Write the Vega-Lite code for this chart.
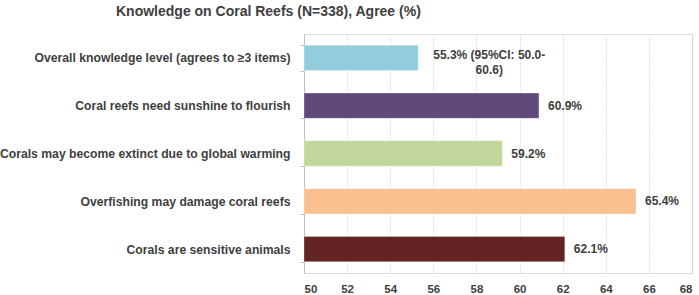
{
  "$schema": "https://vega.github.io/schema/vega-lite/v6.json",
  "autosize": "none",
  "width": 388,
  "height": 239,
  "padding": {"left": 304, "top": 34, "right": 7, "bottom": 22},
  "background": "white",
  "title": {
    "text": "Knowledge on Coral Reefs (N=338), Agree (%)",
    "font": "Liberation Sans, Arial, sans-serif",
    "fontSize": 14,
    "fontWeight": "bold",
    "color": "#404040",
    "anchor": "start",
    "frame": "group",
    "dx": -188,
    "offset": 9
  },
  "data": {
    "values": [
      {"item": "Overall knowledge level (agrees to ≥3 items)", "pct": 55.3, "label": "55.3% (95%CI: 50.0-\n60.6)", "color": "#92CDDC", "multi": true},
      {"item": "Coral reefs need sunshine to flourish", "pct": 60.9, "label": "60.9%", "color": "#604A7B", "multi": false},
      {"item": "Corals may become extinct due to global warming", "pct": 59.2, "label": "59.2%", "color": "#C3D69B", "multi": false},
      {"item": "Overfishing may damage coral reefs", "pct": 65.4, "label": "65.4%", "color": "#FAC090", "multi": false},
      {"item": "Corals are sensitive animals", "pct": 62.1, "label": "62.1%", "color": "#632423", "multi": false}
    ]
  },
  "encoding": {
    "y": {
      "field": "item",
      "type": "nominal",
      "sort": null,
      "scale": {"paddingInner": 0.47, "paddingOuter": 0.235},
      "axis": {
        "title": null,
        "labelFont": "Liberation Sans, Arial, sans-serif",
        "labelFontSize": 12.2,
        "labelFontWeight": "bold",
        "labelColor": "#404040",
        "labelPadding": 10,
        "labelLimit": 400,
        "tickBand": "extent",
        "tickSize": 4,
        "tickColor": "#bfbfbf",
        "domainColor": "#bfbfbf",
        "grid": false
      }
    }
  },
  "layer": [
    {
      "mark": {"type": "bar", "stroke": "#ffffff", "strokeOpacity": 0.3, "strokeWidth": 1},
      "encoding": {
        "x": {
          "field": "pct",
          "type": "quantitative",
          "scale": {"domain": [50, 68], "zero": false, "clamp": true},
          "axis": {
            "title": null,
            "values": [50, 52, 54, 56, 58, 60, 62, 64, 66, 68],
            "labelFont": "Liberation Sans, Arial, sans-serif",
            "labelFontSize": 11.5,
            "labelFontWeight": "bold",
            "labelColor": "#404040",
            "labelPadding": 10,
            "ticks": false,
            "domain": false,
            "grid": true,
            "gridColor": "#c8c8c8",
            "gridDash": [1, 2],
            "gridWidth": 1
          }
        },
        "x2": {"datum": 50},
        "color": {"field": "color", "type": "nominal", "scale": null}
      }
    },
    {
      "transform": [{"filter": "!datum.multi"}],
      "mark": {
        "type": "text",
        "align": "left",
        "baseline": "middle",
        "dx": 9,
        "font": "Liberation Sans, Arial, sans-serif",
        "fontSize": 12,
        "fontWeight": "bold",
        "color": "#404040"
      },
      "encoding": {
        "x": {"field": "pct", "type": "quantitative"},
        "text": {"field": "label"}
      }
    },
    {
      "transform": [{"filter": "datum.multi"}],
      "mark": {
        "type": "text",
        "align": "center",
        "baseline": "middle",
        "lineBreak": "\n",
        "lineHeight": 15,
        "dx": 71,
        "dy": -3,
        "font": "Liberation Sans, Arial, sans-serif",
        "fontSize": 12,
        "fontWeight": "bold",
        "color": "#404040"
      },
      "encoding": {
        "x": {"field": "pct", "type": "quantitative"},
        "text": {"field": "label"}
      }
    }
  ]
}
